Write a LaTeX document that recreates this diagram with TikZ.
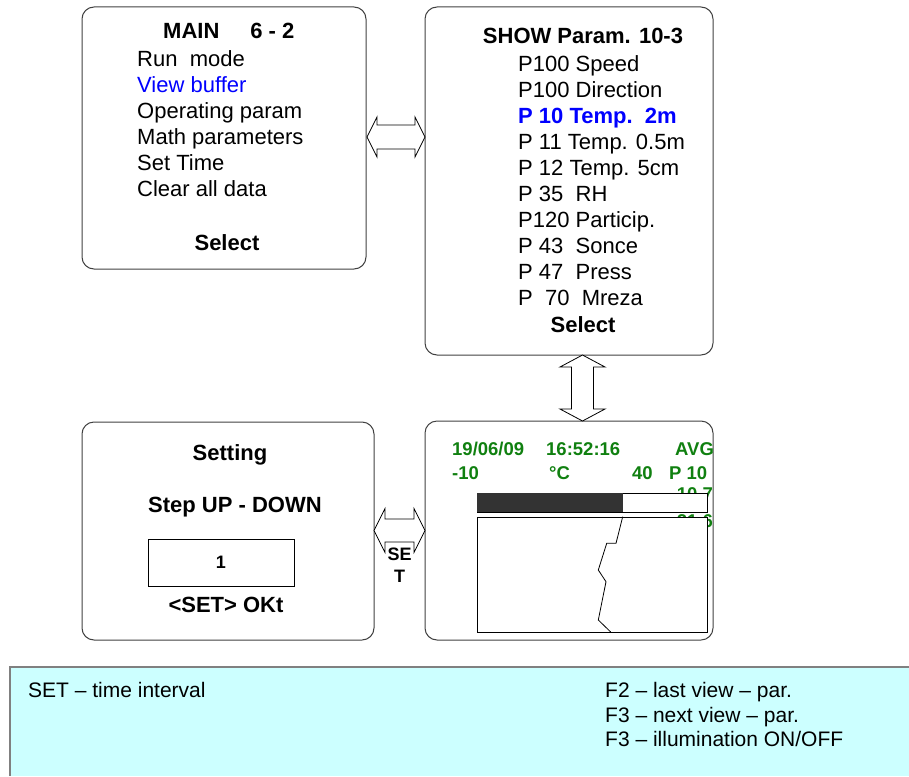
\documentclass[tikz,border=0pt]{standalone}
\usepackage{fontspec}
\setmainfont{Liberation Sans}
\definecolor{panelgray}{RGB}{64,64,64}
\definecolor{selblue}{RGB}{0,0,255}
\definecolor{lcdgreen}{RGB}{16,128,16}
\definecolor{notecyan}{RGB}{204,255,255}
\definecolor{notegray}{RGB}{128,128,128}
\definecolor{bardark}{RGB}{51,51,51}

\begin{document}
\begin{tikzpicture}[x=1pt,y=-1pt,
        panel/.style={draw=panelgray,line width=1pt,rounded corners=12pt,inner sep=0pt},
        big/.style={font=\fontsize{22}{26}\selectfont,inner sep=0pt},
        bigb/.style={font=\fontsize{22}{26}\selectfont\bfseries,inner sep=0pt},
        lcd/.style={font=\fontsize{18.5}{22}\selectfont\bfseries,text=lcdgreen,inner sep=0pt},
        dblarrow/.style={draw=black,fill=white,line width=.8pt,line join=miter},
        note/.style={font=\fontsize{21}{24.7}\selectfont,inner sep=0pt,align=left}]
        \useasboundingbox (0,0) rectangle (909,776);
        % legend strip
        \fill[notecyan] (10,667) rectangle (909,776);
        \draw[notegray,line width=2pt] (10,776) |- (909,667);
        \node[note,anchor=base west] (setnote) at (28,697) {SET -- time interval};
        \node[note,anchor=north west] (fkeys) at (605,682)
          {F2 -- last view -- par.\\F3 -- next view -- par.\\F3 -- illumination ON/OFF};
        % panels
        \node[panel,minimum width=284pt,minimum height=262pt] (main) at (224,138) {};
        \node[panel,minimum width=288pt,minimum height=348pt] (show) at (569,181) {};
        \node[panel,minimum width=292pt,minimum height=218pt] (setting) at (228,531) {};
        \node[panel,minimum width=288pt,minimum height=219pt] (graph) at (569,530.5) {};
        % main menu
        \node[bigb,anchor=base west] (mainhead) at (163,39) {MAIN\hspace{31pt}6 - 2};
        \node[big,anchor=north west,align=left] (mainlist) at (137,50)
          {Run\ \ mode\\\textcolor{selblue}{View buffer}\\Operating param\\Math parameters\\Set Time\\Clear all data};
        \node[bigb,anchor=base] (mainsel) at (227,250) {Select};
        % parameter list
        \node[bigb,anchor=base] (showhead) at (583,44) {SHOW Param. 10-3};
        \node[big,anchor=north west,align=left] (showlist) at (518,55)
          {P100 Speed\\P100 Direction\\\textcolor{selblue}{\bfseries P 10 Temp.\ \ 2m}\\P 11 Temp. 0.5m\\P 12 Temp. 5cm\\
           P 35\ \ RH\\P120 Particip.\\P 43\ \ Sonce\\P 47\ \ Press\\P\ \ 70\ \ Mreza};
        \node[bigb,anchor=base] (showsel) at (583,332) {Select};
        % setting
        \node[bigb,anchor=base] (sethead) at (230,460) {Setting};
        \node[bigb,anchor=base] (setstep) at (235,512) {Step UP - DOWN};
        \node[draw,line width=.8pt,minimum width=146pt,minimum height=47pt,inner sep=0pt,
          font=\fontsize{18}{22}\selectfont\bfseries] (stepval) at (221,562.5) {1};
        \node[bigb,anchor=base] (setok) at (226,612) {<SET> OKt};
        % display
        \node[lcd,anchor=base west] (date) at (452,455) {19/06/09};
        \node[lcd,anchor=base west] (clock) at (546,455) {16:52:16};
        \node[lcd,anchor=base west] (avg) at (675,455) {AVG};
        \node[lcd,anchor=base west] (ymin) at (452,479) {-10};
        \node[lcd,anchor=base west] (unit) at (549,479) {°C};
        \node[lcd,anchor=base west] (ymax) at (632,479) {40};
        \node[lcd,anchor=base west] (pnum) at (669,479) {P 10};
        \node[lcd,anchor=base east] (val1) at (713,500.5) {10.7};
        \node[lcd,anchor=base east] (val2) at (713,527) {21.6};
        \draw[fill=white,line width=.8pt] (477,493) rectangle (707,512);
        \fill[bardark] (477,493) rectangle (623,512);
        \draw[fill=white,line width=.8pt] (477,517) rectangle (707,632);
        \draw[line width=.8pt] (622.7,516.7) -- (616,543.3) -- (606.7,543.3) -- (598.3,570)
          -- (606,581.7) -- (598.3,620) -- (610.7,632);
        % links
        \draw[dblarrow] (367,137) -- (377,117) -- (377,125) -- (415,125) -- (415,117) -- (425,137)
          -- (415,157) -- (415,149) -- (377,149) -- (377,157) -- cycle;
        \draw[dblarrow] (582.5,355) -- (605,367) -- (593.5,367) -- (593.5,409) -- (605,409) -- (582.5,421)
          -- (560,409) -- (571.5,409) -- (571.5,367) -- (560,367) -- cycle;
        \draw[dblarrow] (374,530.5) -- (385,508.5) -- (385,519) -- (414,519) -- (414,508.5) -- (425,530.5)
          -- (414,552.5) -- (414,542) -- (385,542) -- (385,552.5) -- cycle;
        \node[fill=white,inner xsep=0pt,inner ysep=5pt,align=center,
          font=\fontsize{18}{22}\selectfont\bfseries] (setlbl) at (399.5,565) {SE\\T};
      \end{tikzpicture}
\end{document}
